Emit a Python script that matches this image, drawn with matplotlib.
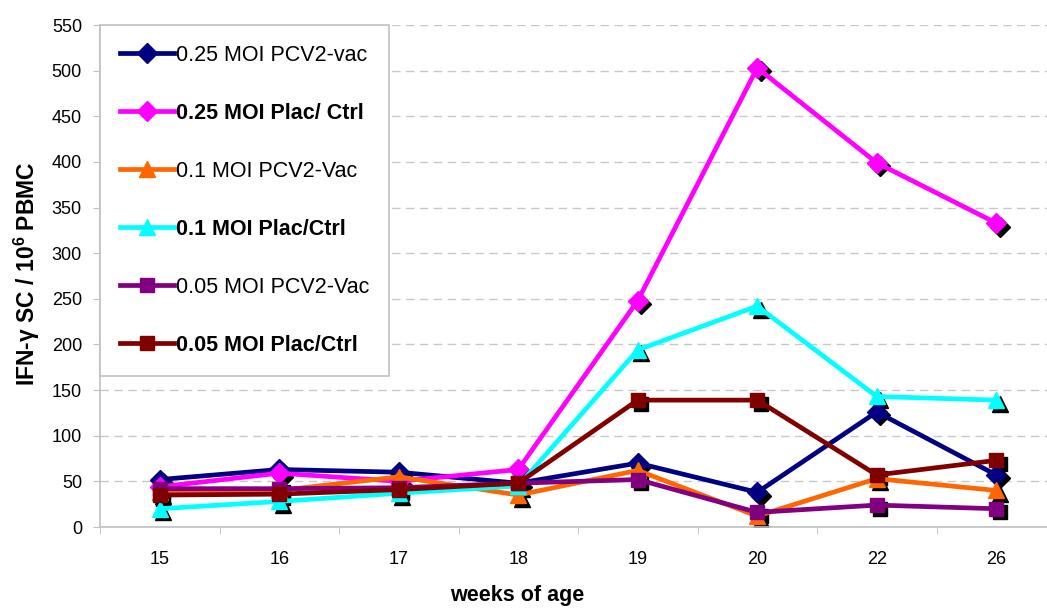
import matplotlib.pyplot as plt
import matplotlib.transforms as mtransforms
import numpy as np

plt.rcParams['font.family'] = ['Liberation Sans', 'DejaVu Sans']
plt.rcParams['mathtext.fontset'] = 'custom'
plt.rcParams['mathtext.rm'] = 'Liberation Sans'
plt.rcParams['mathtext.bf'] = 'Liberation Sans:bold'

# weeks of age (categorical axis)
weeks = ['15', '16', '17', '18', '19', '20', '22', '26']

# IFN-gamma SC / 10^6 PBMC
pcv2_025 = [52, 63, 60, 48, 70, 38, 126, 57]
plac_025 = [44, 59, 50, 63, 248, 503, 399, 333]
pcv2_01 = [38, 40, 55, 35, 62, 12, 53, 40]
plac_01 = [20, 28, 37, 45, 194, 242, 143, 139]
pcv2_005 = [42, 42, 43, 48, 52, 16, 24, 20]
plac_005 = [35, 36, 41, 48, 139, 139, 57, 73]

series = [
    ('0.25 MOI PCV2-vac', pcv2_025, '#000080', 'D', False),
    ('0.25 MOI Plac/ Ctrl', plac_025, '#FF00FF', 'D', True),
    ('0.1 MOI PCV2-Vac', pcv2_01, '#FF6600', '^', False),
    ('0.1 MOI Plac/Ctrl', plac_01, '#00FFFF', '^', True),
    ('0.05 MOI PCV2-Vac', pcv2_005, '#800080', 's', False),
    ('0.05 MOI Plac/Ctrl', plac_005, '#800000', 's', True),
]

fig = plt.figure(figsize=(10.47, 6.08), dpi=100)
ax = fig.add_axes((100 / 1047, 81 / 608, 956 / 1047, 502 / 608))

x = np.arange(len(weeks))
shadow = mtransforms.offset_copy(ax.transData, fig=fig, x=2.5, y=-2.5, units='points')

handles = []
for label, vals, color, marker, bold in series:
    ms = 12 if marker == '^' else 10
    ax.plot(x, vals, color='black', lw=0, marker=marker, ms=ms,
            transform=shadow, zorder=2)
    h, = ax.plot(x, vals, color=color, lw=3.4, marker=marker, ms=ms,
                 mec=color, mfc=color, zorder=3, label=label)
    handles.append(h)

ax.set_xlim(-0.5, len(weeks) - 0.5)
ax.set_ylim(0, 550)
ax.set_yticks(np.arange(0, 551, 50))
ax.set_xticks(x)
ax.set_xticklabels(weeks)
ax.set_xticks(np.arange(-0.5, len(weeks), 1), minor=True)
ax.tick_params(axis='x', which='major', length=0, pad=17, labelsize=13)
ax.tick_params(axis='x', which='minor', length=5, color='#c0c0c0')
ax.tick_params(axis='y', length=5, color='#c0c0c0', labelsize=13, pad=8)

ax.yaxis.grid(True, color='#c8c8c8', linestyle=(0, (6, 4)), lw=1)
ax.set_axisbelow(True)
for side in ['top', 'right']:
    ax.spines[side].set_visible(False)
for side in ['left', 'bottom']:
    ax.spines[side].set_color('#c0c0c0')
    ax.spines[side].set_linewidth(1.2)

ax.set_xlabel('weeks of age', fontsize=15.5, fontweight='bold')
ax.xaxis.set_label_coords((517 - 100) / 956, -(585 - 527) / 502)
ax.set_ylabel('IFN-γ SC / 10$^{\\mathbf{6}}$ PBMC', fontsize=16.5, fontweight='bold')
ax.yaxis.set_label_coords(-(100 - 42) / 956, 0.505)

leg = ax.legend(handles=handles, loc='upper left', bbox_to_anchor=(0, 1),
                borderaxespad=0, fontsize=15.5, labelspacing=1.72, handlelength=2.5,
                handletextpad=0.12, borderpad=0.92, fancybox=False, framealpha=1,
                edgecolor='#c0c0c0')
leg.get_frame().set_linewidth(1.2)
for txt, (_, _, _, _, bold) in zip(leg.get_texts(), series):
    if bold:
        txt.set_fontweight('bold')

fig.savefig('out.png', dpi=100)
